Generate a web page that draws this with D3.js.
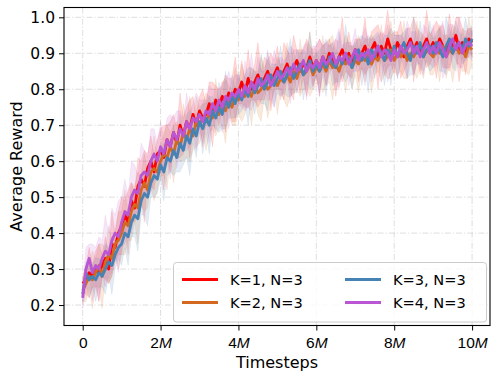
<!DOCTYPE html>
<html><head><meta charset="utf-8">
<script src="https://cdn.jsdelivr.net/npm/d3@7"></script>
<style>body{margin:0;background:#fff}svg{display:block;font-family:"DejaVu Sans",sans-serif}</style>
</head><body><svg id="c" width="499" height="380"></svg>
<script>
const timesteps = d3.range(121).map(i => i / 12); // in millions
const seriesNames = ["K=1, N=3","K=2, N=3","K=3, N=3","K=4, N=3"];
const seriesColors = ["#ff0000","#d2691e","#4682b4","#ba55d3"];
const xTicks = [0,2,4,6,8,10];
const yTicks = [0.2,0.3,0.4,0.5,0.6,0.7,0.8,0.9,1.0];

const meanK1 = [
 0.26,0.27,0.29,0.28,0.30,0.29,0.31,0.33,0.30,0.37,0.36,0.40,
 0.42,0.45,0.43,0.49,0.47,0.53,0.55,0.53,0.58,0.60,0.57,0.62,
 0.63,0.61,0.66,0.64,0.68,0.65,0.70,0.67,0.71,0.69,0.73,0.70,
 0.74,0.72,0.73,0.76,0.73,0.77,0.75,0.78,0.76,0.79,0.77,0.80,
 0.79,0.82,0.79,0.83,0.80,0.82,0.84,0.81,0.83,0.85,0.82,0.84,
 0.86,0.83,0.85,0.87,0.84,0.86,0.88,0.85,0.87,0.86,0.89,0.86,
 0.88,0.86,0.89,0.87,0.90,0.88,0.86,0.89,0.91,0.88,0.90,0.87,
 0.91,0.88,0.90,0.92,0.89,0.91,0.93,0.89,0.92,0.90,0.94,0.91,
 0.90,0.93,0.91,0.89,0.92,0.94,0.91,0.93,0.90,0.92,0.94,0.91,
 0.93,0.91,0.94,0.92,0.90,0.93,0.92,0.95,0.91,0.93,0.90,0.94,
 0.93];
const meanK2 = [
 0.24,0.26,0.28,0.27,0.29,0.31,0.28,0.32,0.34,0.33,0.37,0.38,
 0.40,0.43,0.42,0.46,0.48,0.47,0.52,0.54,0.52,0.57,0.58,0.57,
 0.60,0.62,0.61,0.64,0.62,0.66,0.64,0.68,0.66,0.69,0.67,0.71,
 0.70,0.72,0.71,0.73,0.72,0.75,0.73,0.76,0.74,0.77,0.75,0.78,
 0.77,0.79,0.78,0.80,0.78,0.81,0.79,0.80,0.82,0.80,0.81,0.83,
 0.81,0.83,0.82,0.84,0.82,0.85,0.83,0.86,0.84,0.85,0.87,0.84,
 0.86,0.85,0.87,0.85,0.88,0.86,0.87,0.85,0.88,0.87,0.89,0.86,
 0.88,0.87,0.89,0.88,0.90,0.87,0.89,0.88,0.90,0.88,0.89,0.91,
 0.88,0.90,0.89,0.91,0.88,0.90,0.89,0.91,0.90,0.89,0.91,0.90,
 0.89,0.91,0.90,0.92,0.89,0.91,0.90,0.92,0.90,0.91,0.89,0.92,
 0.91];
const meanK3 = [
 0.23,0.29,0.27,0.28,0.27,0.29,0.28,0.30,0.32,0.31,0.34,0.36,
 0.37,0.40,0.39,0.43,0.45,0.44,0.49,0.51,0.50,0.54,0.56,0.55,
 0.59,0.57,0.61,0.60,0.63,0.61,0.65,0.63,0.67,0.65,0.69,0.67,
 0.71,0.69,0.72,0.70,0.74,0.72,0.75,0.73,0.77,0.75,0.78,0.76,
 0.79,0.77,0.80,0.78,0.82,0.79,0.81,0.83,0.80,0.82,0.84,0.81,
 0.83,0.85,0.82,0.84,0.86,0.83,0.85,0.87,0.84,0.86,0.88,0.85,
 0.87,0.85,0.88,0.86,0.89,0.87,0.86,0.89,0.87,0.90,0.88,0.86,
 0.89,0.91,0.88,0.90,0.87,0.91,0.89,0.92,0.90,0.88,0.91,0.89,
 0.92,0.89,0.91,0.93,0.90,0.88,0.92,0.90,0.93,0.89,0.91,0.92,
 0.90,0.93,0.91,0.89,0.92,0.94,0.90,0.92,0.93,0.91,0.94,0.92,
 0.94];
const meanK4 = [
 0.22,0.30,0.33,0.29,0.31,0.30,0.33,0.35,0.34,0.38,0.40,0.39,
 0.43,0.46,0.45,0.50,0.52,0.51,0.56,0.57,0.56,0.60,0.62,0.60,
 0.64,0.62,0.66,0.64,0.68,0.66,0.69,0.67,0.71,0.69,0.72,0.71,
 0.73,0.71,0.74,0.73,0.76,0.74,0.77,0.75,0.78,0.77,0.79,0.78,
 0.80,0.78,0.81,0.79,0.82,0.80,0.83,0.81,0.82,0.84,0.81,0.83,
 0.85,0.83,0.84,0.86,0.84,0.87,0.85,0.86,0.88,0.85,0.87,0.86,
 0.88,0.86,0.89,0.87,0.88,0.90,0.87,0.89,0.88,0.90,0.87,0.89,
 0.91,0.88,0.90,0.89,0.91,0.88,0.90,0.92,0.89,0.91,0.90,0.88,
 0.91,0.89,0.92,0.90,0.91,0.93,0.90,0.92,0.89,0.91,0.93,0.90,
 0.92,0.90,0.93,0.91,0.89,0.92,0.94,0.91,0.93,0.90,0.92,0.93,
 0.92];

const stdK1 = [
 .02,.04,.07,.03,.05,.08,.03,.06,.04,.09,.04,.06,
 .08,.04,.09,.05,.04,.08,.05,.10,.04,.07,.05,.04,
 .06,.09,.04,.07,.05,.04,.09,.05,.04,.08,.05,.03,
 .04,.08,.03,.06,.09,.04,.05,.03,.08,.04,.06,.09,
 .03,.06,.04,.08,.03,.05,.09,.04,.06,.03,.08,.04,
 .06,.03,.08,.04,.05,.09,.03,.06,.04,.08,.03,.05,
 .04,.08,.03,.06,.04,.03,.08,.04,.09,.03,.06,.04,
 .03,.06,.04,.08,.03,.05,.04,.09,.03,.06,.08,.04,
 .06,.03,.08,.04,.05,.03,.09,.04,.06,.03,.08,.04,
 .04,.08,.03,.06,.04,.08,.03,.05,.09,.04,.06,.03,
 .04];
const stdK2 = [
 .03,.05,.03,.08,.04,.06,.09,.04,.08,.05,.04,.08,
 .06,.09,.04,.08,.05,.10,.04,.08,.05,.04,.09,.05,
 .04,.06,.09,.04,.08,.05,.04,.08,.05,.09,.04,.07,
 .05,.04,.08,.05,.03,.08,.04,.06,.09,.04,.05,.08,
 .04,.08,.05,.03,.08,.04,.06,.09,.04,.08,.05,.03,
 .08,.04,.05,.09,.04,.06,.03,.08,.04,.05,.09,.04,
 .05,.03,.08,.04,.06,.09,.04,.05,.03,.08,.04,.06,
 .04,.08,.03,.06,.04,.08,.05,.03,.08,.04,.06,.08,
 .03,.06,.04,.08,.05,.03,.04,.08,.04,.06,.03,.06,
 .05,.04,.08,.03,.06,.04,.08,.05,.03,.06,.04,.08,
 .04];
const stdK3 = [
 .02,.03,.05,.03,.06,.04,.03,.07,.04,.08,.04,.03,
 .06,.04,.08,.04,.06,.09,.04,.06,.08,.04,.06,.04,
 .04,.08,.05,.03,.07,.04,.08,.04,.06,.09,.04,.06,
 .03,.07,.04,.08,.04,.03,.07,.04,.08,.03,.06,.04,
 .06,.03,.04,.08,.04,.06,.03,.07,.04,.08,.03,.06,
 .04,.07,.03,.06,.08,.04,.06,.03,.07,.04,.08,.04,
 .03,.06,.04,.08,.03,.06,.04,.07,.03,.08,.04,.06,
 .04,.03,.07,.04,.08,.03,.06,.04,.03,.07,.04,.08,
 .03,.06,.04,.03,.07,.04,.08,.03,.06,.04,.03,.07,
 .04,.03,.06,.04,.08,.03,.04,.07,.03,.04,.06,.03,
 .04];
const stdK4 = [
 .03,.06,.04,.08,.05,.09,.05,.10,.06,.09,.05,.10,
 .07,.09,.05,.10,.07,.05,.09,.06,.05,.09,.07,.05,
 .07,.04,.06,.09,.04,.08,.05,.04,.08,.05,.04,.08,
 .04,.06,.03,.08,.04,.06,.03,.07,.04,.08,.03,.06,
 .04,.03,.07,.04,.08,.03,.06,.04,.03,.07,.04,.08,
 .03,.06,.04,.03,.08,.04,.06,.03,.04,.08,.03,.06,
 .04,.08,.03,.06,.04,.03,.07,.08,.04,.03,.06,.04,
 .06,.03,.04,.08,.03,.06,.04,.03,.07,.04,.08,.03,
 .04,.06,.03,.04,.08,.03,.06,.04,.03,.07,.04,.03,
 .06,.03,.04,.08,.03,.06,.04,.03,.07,.04,.03,.04,
 .04];

const means = [meanK1, meanK2, meanK3, meanK4];
const stds = [stdK1, stdK2, stdK3, stdK4];

const svg = d3.select("#c");
const L = 64, R = 490, T = 7.5, B = 325.5;
const x = d3.scaleLinear().domain([-0.48, 10.46]).range([L, R]);
const y = d3.scaleLinear().domain([0.1431, 1.0273]).range([B, T]);

// grid
const grid = svg.append("g").attr("stroke", "#d6d6d6").attr("stroke-width", 0.8)
  .attr("stroke-dasharray", "6,2,1.2,2");
xTicks.forEach(t => grid.append("line").attr("x1", x(t)).attr("x2", x(t)).attr("y1", T).attr("y2", B));
yTicks.forEach(t => grid.append("line").attr("x1", L).attr("x2", R).attr("y1", y(t)).attr("y2", y(t)));

svg.append("clipPath").attr("id", "pc").append("rect")
  .attr("x", L).attr("y", T).attr("width", R - L).attr("height", B - T);
const plot = svg.append("g").attr("clip-path", "url(#pc)");

const area = d3.area().x((d, i) => x(timesteps[i])).y0(d => y(d[0] - d[1])).y1(d => y(d[0] + d[1]));
const line = d3.line().x((d, i) => x(timesteps[i])).y(d => y(d));

means.forEach((m, k) => {
  const data = m.map((v, i) => [v, stds[k][i]]);
  plot.append("path").attr("d", area(data)).attr("fill", seriesColors[k]).attr("fill-opacity", 0.15)
    .attr("stroke", seriesColors[k]).attr("stroke-opacity", 0.12).attr("stroke-width", 0.8);
});
means.forEach((m, k) => {
  plot.append("path").attr("d", line(m)).attr("fill", "none").attr("stroke", seriesColors[k])
    .attr("stroke-width", 2.8).attr("stroke-linejoin", "round");
});

// axes
const xAxis = d3.axisBottom(x).tickValues(xTicks).tickSize(5).tickPadding(4).tickFormat(() => "");
const gx = svg.append("g").attr("transform", `translate(0,${B})`).call(xAxis);
gx.select(".domain").remove();
gx.selectAll(".tick line").attr("stroke", "#000").attr("stroke-width", 1);
gx.selectAll(".tick").append("text").attr("y", 22).attr("fill", "#000")
  .attr("text-anchor", "middle").attr("font-size", 15.5)
  .each(function(d) {
    const t = d3.select(this);
    if (d === 0) { t.text("0"); }
    else { t.append("tspan").text(d); t.append("tspan").attr("font-style", "italic").text("M"); }
  });

const yAxis = d3.axisLeft(y).tickValues(yTicks).tickSize(5).tickPadding(4).tickFormat(d3.format(".1f"));
const gy = svg.append("g").attr("transform", `translate(${L},0)`).call(yAxis);
gy.select(".domain").remove();
gy.selectAll(".tick line").attr("stroke", "#000").attr("stroke-width", 1);
gy.selectAll(".tick text").attr("font-size", 15.5).attr("fill", "#000").attr("font-family", "DejaVu Sans");

svg.append("rect").attr("x", L).attr("y", T).attr("width", R - L).attr("height", B - T)
  .attr("fill", "none").attr("stroke", "#000").attr("stroke-width", 1.1);

svg.append("text").attr("x", (L + R) / 2).attr("y", 368).attr("text-anchor", "middle")
  .attr("font-size", 16).text("Timesteps");
svg.append("text").attr("transform", `translate(22,${(T + B) / 2}) rotate(-90)`).attr("text-anchor", "middle")
  .attr("font-size", 16).text("Average Reward");

// legend
const lg = svg.append("g");
lg.append("rect").attr("x", 173.5).attr("y", 262.5).attr("width", 313).attr("height", 59.5).attr("rx", 3)
  .attr("fill", "#fff").attr("fill-opacity", 0.8).attr("stroke", "#cccccc").attr("stroke-width", 1);
const pos = [[182, 279.5], [182, 302.5], [345, 279.5], [345, 302.5]];
seriesNames.forEach((n, k) => {
  const [px, py] = pos[k];
  lg.append("line").attr("x1", px).attr("x2", px + 36).attr("y1", py).attr("y2", py)
    .attr("stroke", seriesColors[k]).attr("stroke-width", 3);
  lg.append("text").attr("x", px + 48).attr("y", py + 5.3).attr("font-size", 14.6).text(n);
});
</script></body></html>
